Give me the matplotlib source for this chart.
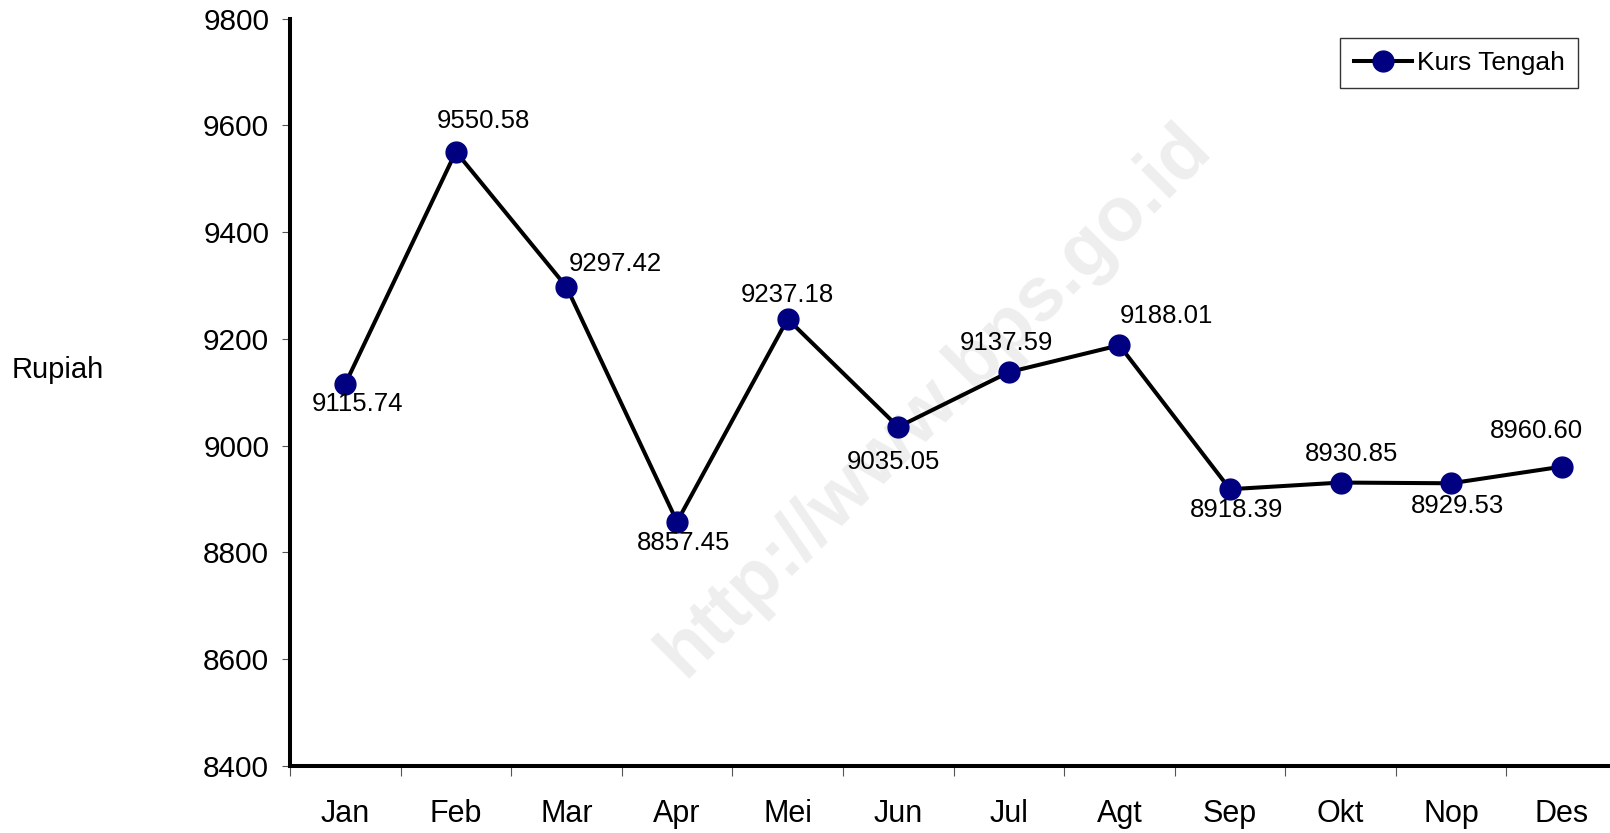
import numpy as np
import matplotlib
matplotlib.use("Agg")
import matplotlib.pyplot as plt
from matplotlib.ticker import FixedLocator, NullFormatter

bulan = ["Jan", "Feb", "Mar", "Apr", "Mei", "Jun", "Jul", "Agt", "Sep", "Okt", "Nop", "Des"]
kurs = [9115.74, 9550.58, 9297.42, 8857.45, 9237.18, 9035.05,
        9137.59, 9188.01, 8918.39, 8930.85, 8929.53, 8960.60]
y_ticks = [8400, 8600, 8800, 9000, 9200, 9400, 9600, 9800]

# posisi label (offset piksel), meniru tata letak Excel
offset = [(12, -20), (28, 31), (49, 23), (7, -21), (0, 24), (-5, -35),
          (-2, 29), (47, 29), (7, -21), (11, 29), (6, -23), (-25, 36)]

plt.rcParams.update({"font.family": ["Liberation Sans", "DejaVu Sans"]})

fig = plt.figure(figsize=(16.1, 8.33), dpi=100)
ax = fig.add_axes([290/1610, 1-766/833, 1327/1610, (766-18.5)/833])

x = np.arange(len(bulan))
ax.plot(x, kurs, color="black", lw=2.9, marker="o", ms=15,
        mfc="#000080", mec="#000080", label="Kurs Tengah", zorder=3, clip_on=False)
for xi, v, (dx, dy) in zip(x, kurs, offset):
    ax.annotate(f"{v:.2f}", (xi, v), xytext=(dx, dy), textcoords="offset pixels",
                ha="center", va="center", fontsize=18.5, zorder=4)

ax.set_xlim(-0.5, len(bulan) - 0.5)
ax.set_ylim(8400, 9800)
ax.set_yticks(y_ticks)
ax.tick_params(axis="y", labelsize=21.5, length=6, width=0.8, color="#555555", pad=9)
ax.set_xticks(x)
ax.set_xticklabels(bulan)
ax.tick_params(axis="x", which="major", length=0, labelsize=22, pad=24)
ax.xaxis.set_minor_locator(FixedLocator(np.arange(-0.5, len(bulan), 1.0)))
ax.xaxis.set_minor_formatter(NullFormatter())
ax.tick_params(axis="x", which="minor", length=7, width=0.8, color="#555555")

for s in ["top", "right"]:
    ax.spines[s].set_visible(False)
for s in ["left", "bottom"]:
    ax.spines[s].set_linewidth(2.9)

fig.text(12/1610, 1-370/833, "Rupiah", fontsize=21, ha="left", va="center")

# watermark
fig.text(935/1610, 1-400/833, "http://www.bps.go.id", fontsize=55, fontweight="bold",
         color="#eeeeee", rotation=45, ha="center", va="center", zorder=0)
ax.set_zorder(1)
ax.patch.set_alpha(0)

leg = ax.legend(loc="upper right", bbox_to_anchor=(1578/1610, 1-38/833),
                bbox_transform=fig.transFigure, fontsize=19, frameon=True,
                fancybox=False, edgecolor="black", handlelength=2.2,
                borderpad=0.5, handletextpad=0.2, borderaxespad=0)
leg.get_frame().set_linewidth(1.0)

fig.savefig("out.png", dpi=100)
